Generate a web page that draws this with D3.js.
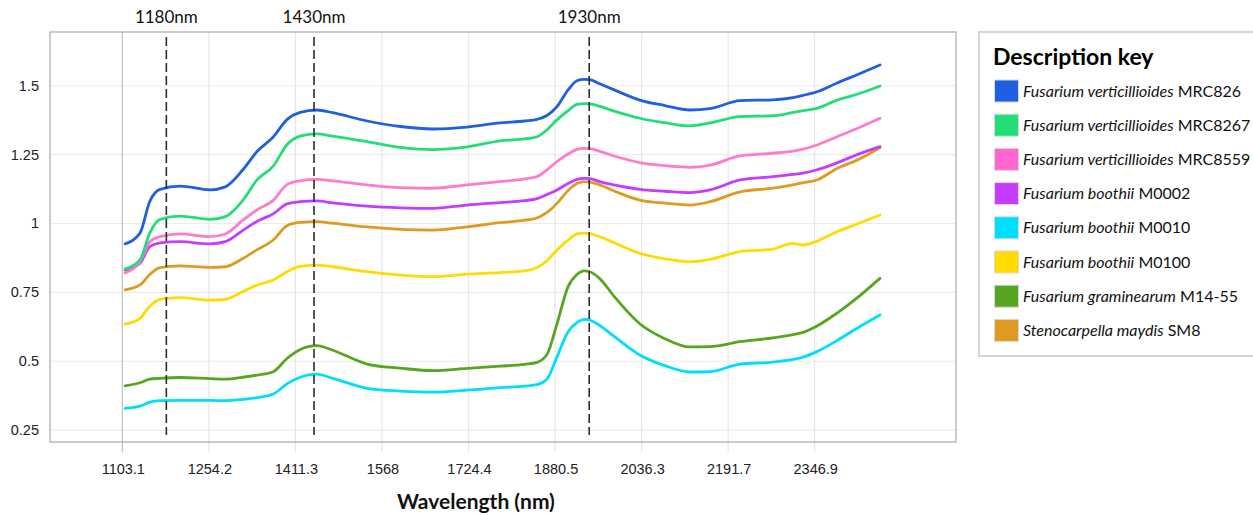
<!DOCTYPE html>
<html>
<head>
<meta charset="utf-8">
<script src="https://cdn.jsdelivr.net/npm/d3@7/dist/d3.min.js"></script>
<style>
  html, body { margin: 0; padding: 0; background: #fff; }
  svg { display: block; }
</style>
</head>
<body>
<svg id="chart" width="1253" height="515"></svg>
<script>
// ---------------- data ----------------
const xTickLabels = ["1103.1", "1254.2", "1411.3", "1568", "1724.4", "1880.5", "2036.3", "2191.7", "2346.9"];
const xTicks = xTickLabels.map(Number);
const yTicks = [0.25, 0.5, 0.75, 1, 1.25, 1.5];
const yTickLabels = ["0.25", "0.5", "0.75", "1", "1.25", "1.5"];

const markerLabels = ["1180nm", "1430nm", "1930nm"];
const markerAt = [1180, 1445, 1942];

const wavelength = [1108, 1134, 1151, 1169, 1204, 1256, 1284, 1316, 1342, 1371, 1396, 1420, 1450, 1479, 1541,
  1601, 1660, 1722, 1781, 1826, 1848, 1866, 1884, 1904, 1920, 1933, 1943, 1961, 1987, 2033, 2078, 2123,
  2159, 2213, 2272, 2308, 2326, 2351, 2387, 2423, 2464];

const seriesNames = ["Fusarium verticillioides MRC826", "Fusarium verticillioides MRC8267", "Fusarium verticillioides MRC8559",
  "Fusarium boothii M0002", "Fusarium boothii M0010", "Fusarium boothii M0100", "Fusarium graminearum M14-55", "Stenocarpella maydis SM8"];
const legendItalic = ["Fusarium verticillioides", "Fusarium verticillioides", "Fusarium verticillioides",
  "Fusarium boothii", "Fusarium boothii", "Fusarium boothii", "Fusarium graminearum", "Stenocarpella maydis"];
const legendRoman = ["MRC826", "MRC8267", "MRC8559", "M0002", "M0010", "M0100", "M14-55", "SM8"];
const seriesColors = ["#1f5fe0", "#22dd78", "#ff7ccb", "#c43cff", "#00defd", "#ffdb00", "#56a621", "#df9a22"];
const swatchColors = ["#1f5fe0", "#22dd78", "#ff66d0", "#c43cff", "#00defd", "#ffdb00", "#56a621", "#df9a22"];

const mrc826 = [0.926, 0.965, 1.08, 1.124, 1.136, 1.122, 1.133, 1.195, 1.262, 1.314, 1.377, 1.403, 1.412, 1.402, 1.372,
  1.352, 1.343, 1.350, 1.365, 1.372, 1.378, 1.392, 1.424, 1.485, 1.518, 1.523, 1.522, 1.507, 1.485, 1.448, 1.428, 1.412,
  1.417, 1.446, 1.449, 1.457, 1.465, 1.478, 1.510, 1.540, 1.575];
const mrc8267 = [0.835, 0.868, 0.965, 1.015, 1.027, 1.015, 1.025, 1.084, 1.159, 1.208, 1.286, 1.317, 1.325, 1.317, 1.297,
  1.276, 1.268, 1.278, 1.300, 1.307, 1.315, 1.340, 1.376, 1.410, 1.432, 1.435, 1.434, 1.425, 1.408, 1.382, 1.366, 1.354,
  1.365, 1.388, 1.391, 1.403, 1.410, 1.418, 1.448, 1.469, 1.499];
const mrc8559 = [0.821, 0.861, 0.934, 0.952, 0.962, 0.952, 0.962, 1.012, 1.050, 1.084, 1.141, 1.155, 1.160, 1.155, 1.140,
  1.130, 1.128, 1.140, 1.152, 1.162, 1.170, 1.195, 1.225, 1.252, 1.269, 1.273, 1.272, 1.262, 1.245, 1.221, 1.210, 1.204,
  1.212, 1.245, 1.255, 1.263, 1.270, 1.285, 1.315, 1.345, 1.382];
const m0002 = [0.831, 0.856, 0.916, 0.930, 0.934, 0.926, 0.934, 0.975, 1.008, 1.035, 1.071, 1.079, 1.082, 1.075, 1.063,
  1.057, 1.055, 1.067, 1.076, 1.083, 1.090, 1.105, 1.122, 1.145, 1.160, 1.164, 1.163, 1.152, 1.140, 1.124, 1.117, 1.112,
  1.122, 1.158, 1.170, 1.178, 1.183, 1.195, 1.220, 1.250, 1.279];
const m0010 = [0.329, 0.337, 0.352, 0.357, 0.358, 0.358, 0.357, 0.362, 0.368, 0.381, 0.418, 0.442, 0.453, 0.438, 0.402,
  0.392, 0.388, 0.395, 0.404, 0.410, 0.415, 0.435, 0.516, 0.607, 0.640, 0.652, 0.649, 0.630, 0.590, 0.523, 0.484, 0.461,
  0.462, 0.490, 0.497, 0.507, 0.515, 0.535, 0.575, 0.620, 0.668];
const m0100 = [0.635, 0.656, 0.700, 0.725, 0.731, 0.722, 0.725, 0.753, 0.777, 0.795, 0.825, 0.844, 0.849, 0.843, 0.825,
  0.813, 0.807, 0.816, 0.822, 0.828, 0.840, 0.865, 0.904, 0.940, 0.962, 0.965, 0.963, 0.952, 0.930, 0.892, 0.872, 0.861,
  0.870, 0.898, 0.907, 0.928, 0.922, 0.936, 0.970, 0.998, 1.031];
const m1455 = [0.411, 0.422, 0.435, 0.438, 0.441, 0.437, 0.435, 0.442, 0.450, 0.462, 0.510, 0.543, 0.557, 0.540, 0.490,
  0.475, 0.466, 0.474, 0.482, 0.489, 0.496, 0.525, 0.636, 0.771, 0.815, 0.828, 0.825, 0.800, 0.735, 0.636, 0.582, 0.552,
  0.553, 0.571, 0.585, 0.597, 0.605, 0.628, 0.675, 0.730, 0.801];
const sm8 = [0.759, 0.777, 0.815, 0.840, 0.846, 0.841, 0.843, 0.873, 0.905, 0.940, 0.992, 1.004, 1.007, 1.001, 0.988,
  0.979, 0.976, 0.988, 1.003, 1.012, 1.020, 1.040, 1.073, 1.120, 1.145, 1.152, 1.150, 1.140, 1.118, 1.085, 1.074, 1.067,
  1.079, 1.115, 1.128, 1.140, 1.148, 1.158, 1.200, 1.230, 1.276];
const seriesValues = [mrc826, mrc8267, mrc8559, m0002, m0010, m0100, m1455, sm8];
// drawing order (back to front)
const drawOrder = [4, 6, 5, 7, 3, 2, 1, 0];

// ---------------- layout ----------------
const svg = d3.select("#chart");
const panel = { left: 50, right: 956, top: 32, bottom: 442 };
const xStart = 122.3, xStep = 86.55;

const x = d3.scaleLinear()
  .domain(xTicks)
  .range(xTicks.map((d, i) => xStart + i * xStep));
const y = d3.scaleLinear().domain([0.207, 1.695]).range([panel.bottom, panel.top]);

const calibri = "Lato, 'Open Sans', sans-serif";
const arial = "'Liberation Sans', Arial, sans-serif";

// horizontal gridlines
svg.append("g").selectAll("line").data(yTicks).join("line")
  .attr("x1", panel.left).attr("x2", panel.right)
  .attr("y1", d => y(d)).attr("y2", d => y(d))
  .attr("stroke", "#ececec").attr("stroke-width", 1.2);

// vertical gridlines (extend below the axis as ticks)
svg.append("g").selectAll("line").data(xTicks).join("line")
  .attr("x1", d => x(d)).attr("x2", d => x(d))
  .attr("y1", panel.top).attr("y2", panel.bottom + 10)
  .attr("stroke", (d, i) => i === 0 ? "#bdbdbd" : "#e6e6e6").attr("stroke-width", 1.2);

// panel border
svg.append("rect")
  .attr("x", panel.left).attr("y", panel.top)
  .attr("width", panel.right - panel.left).attr("height", panel.bottom - panel.top)
  .attr("fill", "none").attr("stroke", "#a8a8a8").attr("stroke-width", 1.2);

// y tick labels
svg.append("g").selectAll("text").data(yTicks).join("text")
  .attr("x", 39).attr("y", d => y(d) + 5)
  .attr("text-anchor", "end")
  .attr("font-family", arial).attr("font-size", 14.5).attr("fill", "#222")
  .text((d, i) => yTickLabels[i]);

// x tick labels
svg.append("g").selectAll("text").data(xTicks).join("text")
  .attr("x", d => x(d) + 1).attr("y", 474)
  .attr("text-anchor", "middle")
  .attr("font-family", arial).attr("font-size", 14.5).attr("fill", "#222")
  .text((d, i) => xTickLabels[i]);

// axis title
svg.append("text")
  .attr("x", 476).attr("y", 509)
  .attr("text-anchor", "middle")
  .attr("font-family", calibri).attr("font-weight", "bold").attr("font-size", 21).attr("fill", "#111")
  .text("Wavelength (nm)");

// series lines
const line = d3.line()
  .x((d, i) => x(wavelength[i]))
  .y(d => y(d))
  .curve(d3.curveMonotoneX);

svg.append("g").selectAll("path").data(drawOrder).join("path")
  .attr("d", k => line(seriesValues[k]))
  .attr("fill", "none")
  .attr("stroke", k => seriesColors[k])
  .attr("stroke-width", 2.8)
  .attr("stroke-linejoin", "round").attr("stroke-linecap", "round");

// marker lines
svg.append("g").selectAll("line").data(markerAt).join("line")
  .attr("x1", d => x(d)).attr("x2", d => x(d))
  .attr("y1", 37).attr("y2", 435)
  .attr("stroke", "#2b2b2b").attr("stroke-width", 1.6)
  .attr("stroke-dasharray", "9,4");

svg.append("g").selectAll("text").data(markerAt).join("text")
  .attr("x", d => x(d)).attr("y", 23)
  .attr("text-anchor", "middle")
  .attr("font-family", calibri).attr("font-size", 17).attr("fill", "#111")
  .text((d, i) => markerLabels[i]);

// legend
const lg = svg.append("g");
lg.append("rect")
  .attr("x", 979).attr("y", 32).attr("width", 290).attr("height", 324)
  .attr("fill", "#fff").attr("stroke", "#d6d6d6").attr("stroke-width", 2);
lg.append("text")
  .attr("x", 993).attr("y", 65)
  .attr("font-family", calibri).attr("font-weight", "bold").attr("font-size", 23).attr("fill", "#000")
  .text("Description key");

const rowY = i => 91 + i * 34.2;
const items = lg.selectAll("g.item").data(seriesNames).join("g").attr("class", "item");
items.append("rect")
  .attr("x", 994.5).attr("y", (d, i) => rowY(i) - 11)
  .attr("width", 24).attr("height", 22)
  .attr("fill", (d, i) => swatchColors[i])
  .attr("stroke", "#d9d9d9").attr("stroke-width", 1);
const t = items.append("text")
  .attr("x", 1023).attr("y", (d, i) => rowY(i) + 5.5)
  .attr("font-family", calibri).attr("font-size", 16).attr("fill", "#111");
t.append("tspan").attr("font-style", "italic").text((d, i) => legendItalic[i]);
t.append("tspan").text((d, i) => " " + legendRoman[i]);
</script>
</body>
</html>
